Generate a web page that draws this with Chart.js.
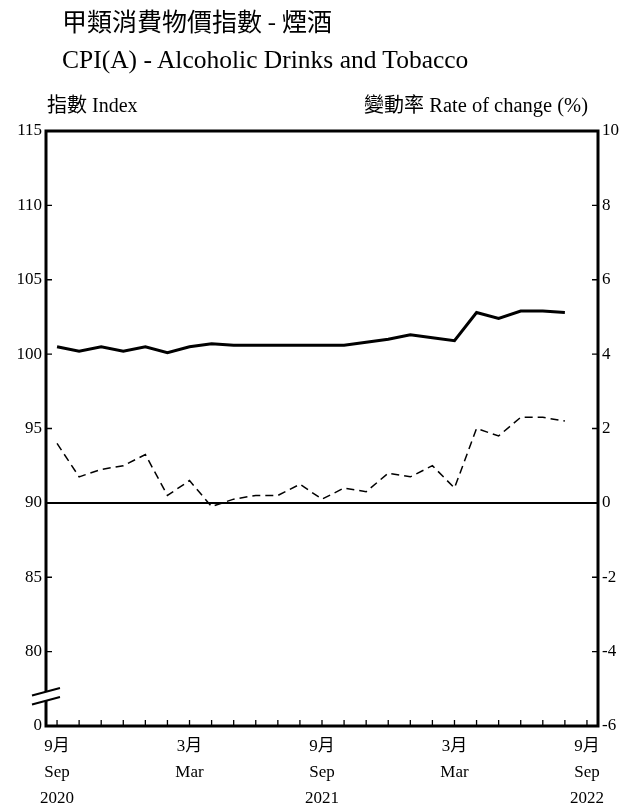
<!DOCTYPE html>
<html>
<head>
<meta charset="utf-8">
<script src="https://cdn.jsdelivr.net/npm/chart.js@4.4.0/dist/chart.umd.min.js"></script>
<style>
  html, body { margin: 0; padding: 0; background: #fff; }
  #wrap { position: relative; width: 624px; height: 804px; }
  .txt { position: absolute; white-space: nowrap; color: #000;
         font-family: "Liberation Serif", "Noto Sans CJK TC", serif; }
  .cn { font-family: "Noto Sans CJK TC", sans-serif; }
</style>
</head>
<body>
<div id="wrap">
  <div class="txt" style="left:62px; top:2px; font-size:25px;"><span class="cn">甲類消費物價指數 - 煙酒</span></div>
  <div class="txt" style="left:62px; top:45px; font-size:25.5px;">CPI(A) - Alcoholic Drinks and Tobacco</div>
  <div class="txt" style="left:47px; top:89px; font-size:20px;"><span class="cn" style="font-size:20px;">指數</span> Index</div>
  <div class="txt" style="right:36px; top:89px; font-size:20.5px;"><span class="cn" style="font-size:20px;">變動率</span> Rate of change (%)</div>
  <canvas id="cpiChart" width="624" height="804"></canvas>
</div>
<script>
// months Sep 2020 .. Sep 2022 (last one has no data, just the tick)
const months = [
  '2020-09','2020-10','2020-11','2020-12','2021-01','2021-02','2021-03','2021-04',
  '2021-05','2021-06','2021-07','2021-08','2021-09','2021-10','2021-11','2021-12',
  '2022-01','2022-02','2022-03','2022-04','2022-05','2022-06','2022-07','2022-08','2022-09'
];
const indexValues = [100.5, 100.2, 100.5, 100.2, 100.5, 100.1, 100.5, 100.7, 100.6, 100.6, 100.6, 100.6,
                     100.6, 100.6, 100.8, 101.0, 101.3, 101.1, 100.9, 102.8, 102.4, 102.9, 102.9, 102.8, null];
const rateValues  = [1.6, 0.7, 0.9, 1.0, 1.3, 0.2, 0.6, -0.1, 0.1, 0.2, 0.2, 0.5,
                     0.1, 0.4, 0.3, 0.8, 0.7, 1.0, 0.4, 2.0, 1.8, 2.3, 2.3, 2.2, null];

// tick labels shown under the x axis
const tickPos   = [0, 6, 12, 18, 24];
const tickCn    = ['9月', '3月', '9月', '3月', '9月'];
const tickEn    = ['Sep', 'Mar', 'Sep', 'Mar', 'Sep'];
const tickYear  = ['2020', '', '2021', '', '2022'];

const leftTicks  = [75, 80, 85, 90, 95, 100, 105, 110, 115];
const rightTicks = [-6, -4, -2, 0, 2, 4, 6, 8, 10];

const serif = '"Liberation Serif", "Noto Sans CJK TC", serif';

// frame, inner ticks, zero line and axis break
const framePlugin = {
  id: 'frame',
  beforeDatasetsDraw(chart) {
    const { ctx, chartArea: a, scales } = chart;
    const y0 = scales.yR.getPixelForValue(0);
    ctx.save();
    ctx.strokeStyle = '#000';
    ctx.lineWidth = 2;
    ctx.beginPath();
    ctx.moveTo(a.left, y0);
    ctx.lineTo(a.right, y0);
    ctx.stroke();
    ctx.restore();
  },
  afterDraw(chart) {
    const { ctx, chartArea: a, scales } = chart;
    ctx.save();
    ctx.strokeStyle = '#000';
    ctx.lineWidth = 1.3;
    ctx.beginPath();
    for (let i = 0; i < months.length; i++) {
      const x = scales.x.getPixelForValue(i);
      ctx.moveTo(x, a.bottom);
      ctx.lineTo(x, a.bottom - 6);
    }
    leftTicks.slice(1, -1).forEach(v => {
      const y = scales.yL.getPixelForValue(v);
      ctx.moveTo(a.left, y);
      ctx.lineTo(a.left + 6, y);
    });
    rightTicks.slice(1, -1).forEach(v => {
      const y = scales.yR.getPixelForValue(v);
      ctx.moveTo(a.right, y);
      ctx.lineTo(a.right - 6, y);
    });
    ctx.stroke();

    ctx.lineWidth = 3;
    ctx.strokeRect(a.left, a.top, a.right - a.left, a.bottom - a.top);

    // axis break on the left axis
    const c = scales.yL.getPixelForValue(77);
    ctx.fillStyle = '#fff';
    ctx.fillRect(a.left - 3, c - 4.5, 6, 9);
    ctx.lineWidth = 2;
    ctx.beginPath();
    ctx.moveTo(a.left - 14, c - 4.5 + 3.7);
    ctx.lineTo(a.left + 14, c - 4.5 - 3.7);
    ctx.moveTo(a.left - 14, c + 4.5 + 3.7);
    ctx.lineTo(a.left + 14, c + 4.5 - 3.7);
    ctx.stroke();
    ctx.restore();
  }
};

new Chart(document.getElementById('cpiChart').getContext('2d'), {
  type: 'line',
  data: {
    labels: months,
    datasets: [
      {
        label: 'Index',
        data: indexValues,
        yAxisID: 'yL',
        borderColor: '#000',
        borderWidth: 3,
        pointRadius: 0,
        tension: 0,
        fill: false
      },
      {
        label: 'Rate of change',
        data: rateValues,
        yAxisID: 'yR',
        borderColor: '#000',
        borderWidth: 1.5,
        borderDash: [8, 5],
        pointRadius: 0,
        tension: 0,
        fill: false
      }
    ]
  },
  options: {
    responsive: false,
    animation: false,
    layout: { padding: { top: 131, left: 0, right: 0, bottom: 0 } },
    plugins: {
      legend: { display: false },
      tooltip: { enabled: false }
    },
    scales: {
      x: {
        type: 'category',
        offset: true,
        grid: { display: false, drawTicks: false },
        border: { display: false },
        afterFit(s) { s.height = 78; },
        ticks: {
          autoSkip: false,
          maxRotation: 0,
          padding: 7,
          color: '#000',
          font: { family: serif, size: 17, lineHeight: 1.55 },
          callback(v, i) {
            const k = tickPos.indexOf(i);
            if (k < 0) return '';
            return tickYear[k] ? [tickCn[k], tickEn[k], tickYear[k]] : [tickCn[k], tickEn[k]];
          }
        }
      },
      yL: {
        position: 'left',
        min: 75,
        max: 115,
        grid: { display: false, drawTicks: false },
        border: { display: false },
        afterFit(s) { s.width = 46; },
        afterBuildTicks(s) { s.ticks = leftTicks.map(v => ({ value: v })); },
        ticks: {
          padding: 4,
          color: '#000',
          font: { family: serif, size: 17 },
          callback: v => (v === 75 ? '0' : String(v))
        }
      },
      yR: {
        position: 'right',
        min: -6,
        max: 10,
        grid: { display: false, drawTicks: false },
        border: { display: false },
        afterFit(s) { s.width = 26; },
        afterBuildTicks(s) { s.ticks = rightTicks.map(v => ({ value: v })); },
        ticks: {
          padding: 4,
          color: '#000',
          font: { family: serif, size: 17 },
          callback: v => String(v)
        }
      }
    }
  },
  plugins: [framePlugin]
});
</script>
</body>
</html>
